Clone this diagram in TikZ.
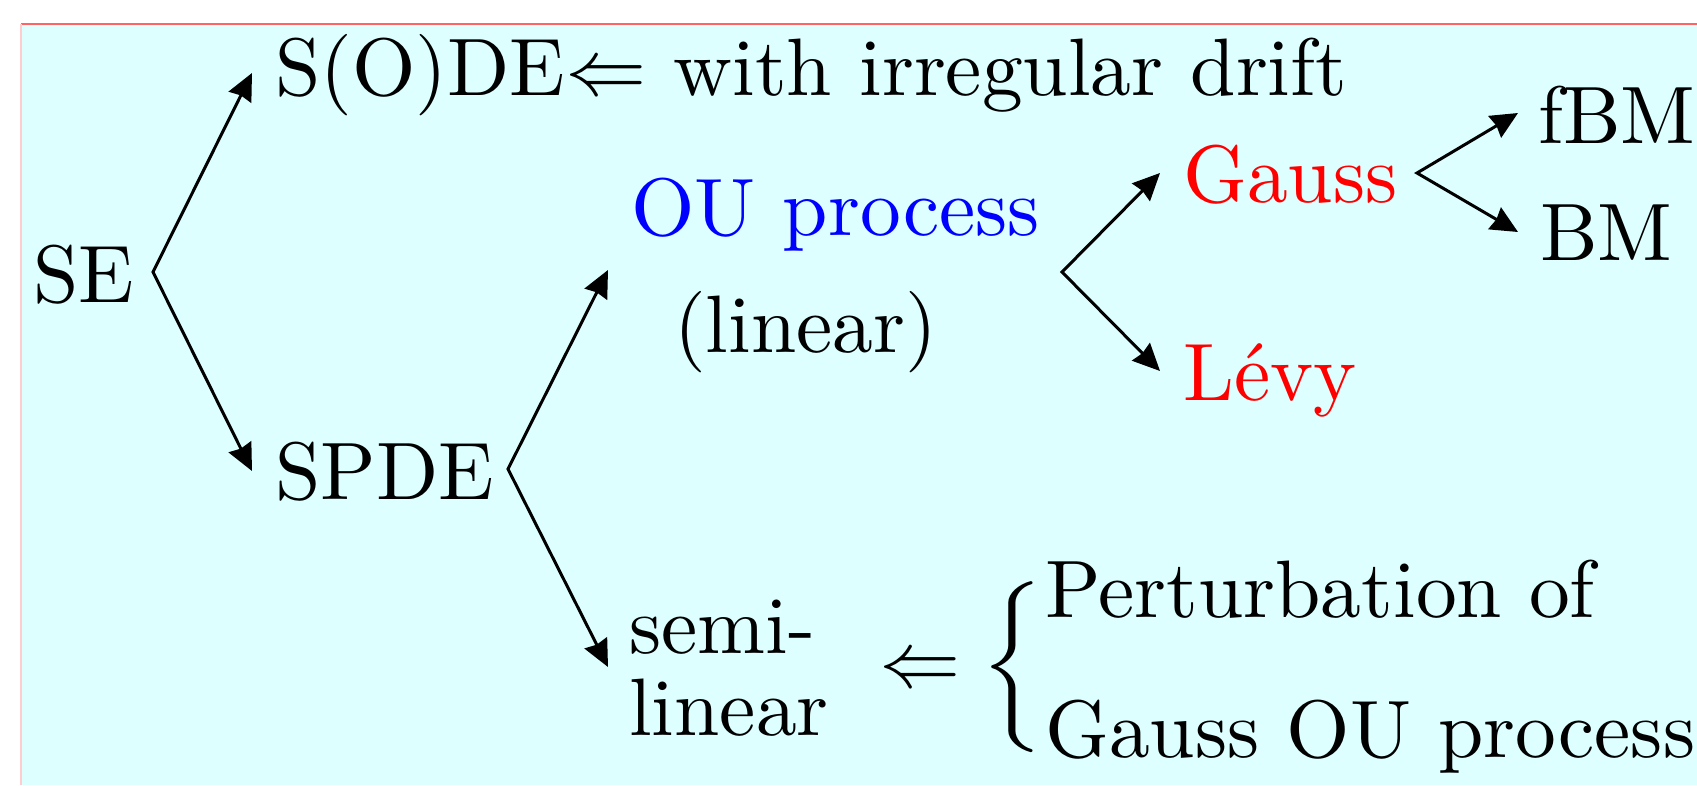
\documentclass[tikz,border=0pt]{standalone}
\usepackage{unicode-math}
\setmainfont{lmroman10-regular.otf}
\usetikzlibrary{arrows.meta}
\definecolor{bgcyan}{RGB}{221,255,255}
\definecolor{framered}{RGB}{255,100,100}
\definecolor{framepink}{RGB}{255,205,205}
\definecolor{oublue}{RGB}{0,0,255}
\definecolor{gred}{RGB}{255,0,0}
\tikzset{
  lbl/.style={anchor=base west, inner sep=0pt, font=\fontsize{81.5}{100}\selectfont},
  fork/.style={line width=3pt, {Stealth[length=27pt,width=25pt,inset=2pt]}-{Stealth[length=27pt,width=25pt,inset=2pt]}},
}
\begin{document}
\begin{tikzpicture}[x=1pt,y=-1pt]
\useasboundingbox (0,0) rectangle (1697,785);
\fill[bgcyan] (21,24) rectangle (1697,785);
\draw[framered, line width=1.5pt] (21,24) -- (1697,24);
\draw[framepink, line width=1.5pt] (21,24) -- (21,785);

\node[lbl] (SE) at (33,302) {SE};
\node[lbl] (SODE) at (275,95) {S(O)DE$\Leftarrow$ with irregular drift};
\node[lbl] (SPDE) at (275,499) {SPDE};
\node[lbl, text=oublue] (OU) at (631,235) {OU process};
\node[lbl] (lin) at (674,352) {(linear)};
\node[lbl, text=gred] (Gauss) at (1183,202) {Gauss};
\node[lbl, text=gred] (Levy) at (1183,400) {Lévy};
\node[lbl] (fBM) at (1538,143) {fBM};
\node[lbl] (BM) at (1540,260) {BM};
\node[lbl] (semi) at (629,653) {semi-};
\node[lbl] (semilin) at (629,735) {linear};
\node[inner sep=0pt, font=\fontsize{81.5}{100}\selectfont] (impl) at (920,667) {$\Leftarrow$};
\node[inner sep=0pt, font=\fontsize{81.5}{100}\selectfont] (brace) at (1013,667)
  {$\delimiterfactor=1000\delimitershortfall=0pt\left\{\rule[-56pt]{0pt}{112pt}\right.$};
\node[lbl] (pert) at (1045,617) {Perturbation of};
\node[lbl] (gou) at (1045,757) {Gauss OU process};

\coordinate (vSE) at (153,272);
\coordinate (tSODE) at (252,73);
\coordinate (tSPDE) at (252,471);
\coordinate (vSPDE) at (508,469);
\coordinate (tOU) at (608,270);
\coordinate (tsemi) at (608,667);
\coordinate (vOU) at (1062,272);
\coordinate (tGauss) at (1160,173);
\coordinate (tLevy) at (1160,371);
\coordinate (vGauss) at (1417,173);
\coordinate (tfBM) at (1518,113);
\coordinate (tBM) at (1518,232);

\draw[fork] (tSODE) -- (vSE) -- (tSPDE);
\draw[fork] (tOU) -- (vSPDE) -- (tsemi);
\draw[fork] (tGauss) -- (vOU) -- (tLevy);
\draw[fork] (tfBM) -- (vGauss) -- (tBM);
\end{tikzpicture}
\end{document}
